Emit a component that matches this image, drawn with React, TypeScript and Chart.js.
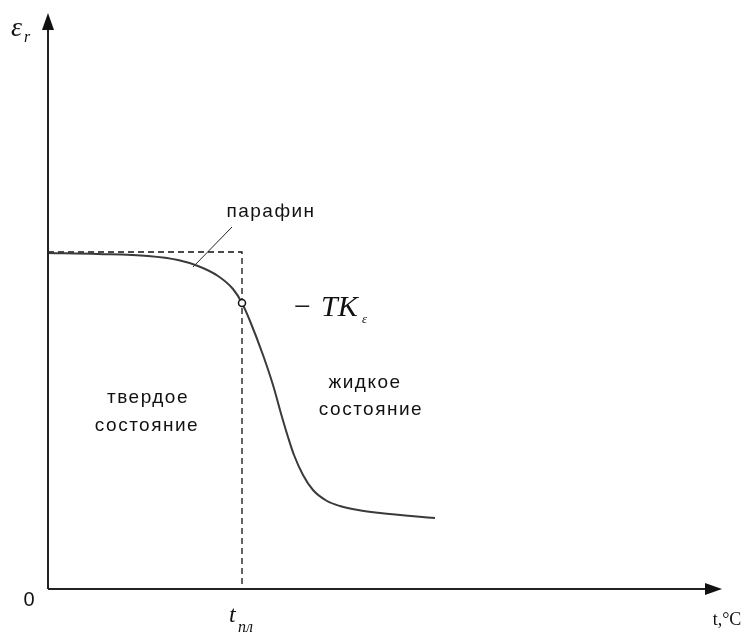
import React, { useEffect, useRef } from "react";
import { Chart, registerables } from "chart.js";

Chart.register(...registerables);

// Temperature (arbitrary units from the origin) and relative permittivity (arbitrary units)
const tempX = [0, 50, 100, 130, 150, 170, 185, 194, 202, 215, 225, 234, 240, 246, 255, 265, 279, 292, 310, 332, 387];
const epsY = [336, 335, 333, 329, 323, 313, 300, 286, 268, 234, 204, 172, 152, 134, 114, 99, 88, 83, 79, 76, 71];
const meltX = 194;
const plateauY = 337;
const markIndex = 7; // point where the −TKε is marked
const leaderX = [145, 184];
const leaderY = [322, 362];
const axisMaxX = 674;
const axisMaxY = 576;

const textLabels = [
  { text: "парафин", x: 223, y: 377 },
  { text: "твердое", x: 100, y: 191 },
  { text: "состояние", x: 99, y: 163 },
  { text: "жидкое", x: 317, y: 206 },
  { text: "состояние", x: 323, y: 179 },
];

export default function App() {
  const ref = useRef<HTMLCanvasElement | null>(null);

  useEffect(() => {
    if (!ref.current) return;
    const curve = tempX.map((x, i) => ({ x, y: epsY[i] }));
    const dashed = [
      { x: 0, y: plateauY },
      { x: meltX, y: plateauY },
      { x: meltX, y: 0 },
    ];
    const leader = leaderX.map((x, i) => ({ x, y: leaderY[i] }));

    const axesPlugin = {
      id: "axesArrows",
      afterDatasetsDraw(chart: any) {
        const ctx = chart.ctx;
        const xs = chart.scales.x;
        const ys = chart.scales.y;
        const x0 = xs.getPixelForValue(0);
        const y0 = ys.getPixelForValue(0);
        const xEnd = xs.getPixelForValue(axisMaxX);
        const yEnd = ys.getPixelForValue(axisMaxY);
        ctx.save();
        ctx.strokeStyle = "#222";
        ctx.fillStyle = "#111";
        ctx.lineWidth = 2;
        ctx.beginPath();
        ctx.moveTo(x0, y0);
        ctx.lineTo(x0, yEnd + 14);
        ctx.moveTo(x0, y0);
        ctx.lineTo(xEnd - 14, y0);
        ctx.stroke();
        // arrowheads
        ctx.beginPath();
        ctx.moveTo(x0, yEnd);
        ctx.lineTo(x0 - 6, yEnd + 17);
        ctx.lineTo(x0 + 6, yEnd + 17);
        ctx.closePath();
        ctx.fill();
        ctx.beginPath();
        ctx.moveTo(xEnd, y0);
        ctx.lineTo(xEnd - 17, y0 - 6);
        ctx.lineTo(xEnd - 17, y0 + 6);
        ctx.closePath();
        ctx.fill();

        // text labels
        ctx.fillStyle = "#111";
        ctx.textAlign = "center";
        ctx.textBaseline = "middle";
        ctx.font = "19px 'Liberation Sans', Arial, sans-serif";
        (ctx as any).letterSpacing = "1.5px";
        for (const l of textLabels) {
          ctx.fillText(l.text, xs.getPixelForValue(l.x), ys.getPixelForValue(l.y));
        }
        (ctx as any).letterSpacing = "0px";

        // "0"
        ctx.font = "20px 'Liberation Sans', Arial, sans-serif";
        ctx.fillText("0", xs.getPixelForValue(-19), ys.getPixelForValue(-11));

        // t,°C
        ctx.font = "18px 'Liberation Serif', 'Times New Roman', serif";
        ctx.fillText("t,°C", xs.getPixelForValue(679), ys.getPixelForValue(-31));

        // t_пл
        ctx.textAlign = "left";
        ctx.textBaseline = "alphabetic";
        const tx = xs.getPixelForValue(meltX);
        const ty = ys.getPixelForValue(0);
        ctx.font = "italic 24px 'Liberation Serif', 'Times New Roman', serif";
        ctx.fillText("t", tx - 13, ty + 33);
        ctx.font = "italic 16px 'Liberation Serif', 'Times New Roman', serif";
        ctx.fillText("пл", tx - 4, ty + 43);

        // ε_r
        const ex = xs.getPixelForValue(0);
        const ey = ys.getPixelForValue(axisMaxY);
        ctx.font = "italic 28px 'Liberation Serif', 'Times New Roman', serif";
        ctx.fillText("ε", ex - 37, ey + 23);
        ctx.font = "italic 16px 'Liberation Serif', 'Times New Roman', serif";
        ctx.fillText("r", ex - 24, ey + 29);

        // − TK_ε
        const mx = xs.getPixelForValue(tempX[markIndex]);
        const my = ys.getPixelForValue(epsY[markIndex]);
        ctx.font = "30px 'Liberation Serif', 'Times New Roman', serif";
        ctx.fillText("−", mx + 52, my + 13);
        ctx.font = "italic 30px 'Liberation Serif', 'Times New Roman', serif";
        ctx.fillText("TK", mx + 79, my + 13);
        ctx.font = "italic 13px 'Liberation Serif', 'Times New Roman', serif";
        ctx.fillText("ε", mx + 120, my + 20);
        ctx.restore();
      },
    };

    const chart = new Chart(ref.current, {
      type: "line",
      data: {
        datasets: [
          {
            data: curve,
            borderColor: "#3a3a3a",
            borderWidth: 2,
            cubicInterpolationMode: "monotone",
            pointRadius: curve.map((_, i) => (i === markIndex ? 3.5 : 0)),
            pointBackgroundColor: "#fff",
            pointBorderColor: "#111",
            pointBorderWidth: 1.5,
            order: 0,
          },
          {
            data: dashed,
            borderColor: "#111",
            borderWidth: 1.3,
            borderDash: [6, 4],
            pointRadius: 0,
            tension: 0,
            order: 1,
          },
          {
            data: leader,
            borderColor: "#222",
            borderWidth: 1,
            pointRadius: 0,
            tension: 0,
            order: 1,
          },
        ],
      },
      options: {
        animation: false,
        responsive: false,
        events: [],
        layout: { padding: { left: 48, right: 23, top: 13, bottom: 43 } },
        plugins: { legend: { display: false }, tooltip: { enabled: false } },
        scales: {
          x: { type: "linear", min: 0, max: axisMaxX, display: false },
          y: { type: "linear", min: 0, max: axisMaxY, display: false },
        },
      },
      plugins: [axesPlugin],
    });
    return () => chart.destroy();
  }, []);

  return (
    <div style={{ position: "fixed", left: 0, top: 0, width: 745, height: 632, background: "#fff" }}>
      <canvas ref={ref} width={745} height={632} style={{ width: 745, height: 632, display: "block" }} />
    </div>
  );
}
